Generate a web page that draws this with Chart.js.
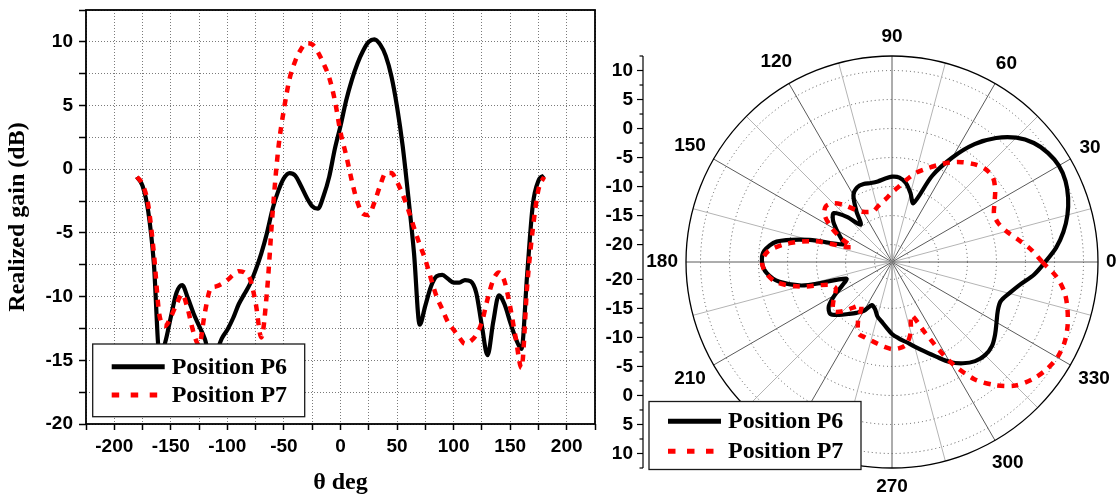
<!DOCTYPE html>
<html>
<head>
<meta charset="utf-8">
<script src="https://cdn.jsdelivr.net/npm/chart.js@4.4.1/dist/chart.umd.min.js"></script>
<style>
  html, body { margin: 0; padding: 0; background: #fff; }
  #wrap { position: relative; width: 1118px; height: 500px; overflow: hidden; background: #fff; }
  #cartesian { position: absolute; left: 0; top: 0; }
  #polar { position: absolute; left: 600px; top: 0; }
</style>
</head>
<body>
<div id="wrap">
  <canvas id="cartesian" width="600" height="500"></canvas>
  <canvas id="polar" width="518" height="500"></canvas>
</div>
<script>
// Elevation angle θ in degrees (5° steps)
const thetaDeg = [
  -180, -175, -170, -165, -160, -155, -150, -145, -140, -135, -130, -125, -120,
  -115, -110, -105, -100, -95, -90, -85, -80, -75, -70, -65, -60, -55, -50,
  -45, -40, -35, -30, -25, -20, -15, -10, -5, 0, 5, 10, 15, 20, 25, 30,
  35, 40, 45, 50, 55, 60, 65, 70, 75, 80, 85, 90, 95, 100, 105, 110,
  115, 120, 125, 130, 135, 140, 145, 150, 155, 160, 165, 170, 175, 180
];

// Realized gain (dB), antenna at position P6
const gainP6 = [
  -0.6, -1.3, -3.3, -7.4, -14.6, -13.6, -11.6, -9.7, -9.1, -10.1, -11.3, -12.3, -13.3,
  -14.8, -14.4, -13.3, -12.6, -11.7, -10.6, -9.8, -9.0, -7.9, -6.6, -5.0, -3.1, -1.7, -0.7,
  -0.3, -0.5, -1.3, -2.2, -2.9, -3.1, -2.1, -0.6, 1.6, 3.4, 5.4, 7.0, 8.3, 9.3, 10.0, 10.2,
  9.8, 8.9, 7.3, 4.9, 1.8, -2.2, -6.6, -12.2, -10.7, -9.2, -8.4, -8.3, -8.6, -8.9, -8.9, -8.7,
  -8.8, -9.7, -12.3, -14.6, -12.0, -9.9, -10.6, -12.0, -13.3, -14.1, -8.3, -2.8, -0.9, -0.5
];

// Realized gain (dB), antenna at position P7
const gainP7 = [
  -0.6, -1.2, -2.8, -6.6, -11.5, -12.3, -11.6, -10.6, -9.8, -11.0, -12.8, -13.8, -11.3,
  -9.4, -9.2, -9.0, -8.7, -8.3, -8.0, -8.1, -8.6, -10.5, -13.2, -9.6, -3.4, 1.6, 4.7,
  7.1, 8.5, 9.4, 9.9, 9.8, 9.2, 8.3, 7.2, 5.4, 2.9, 1.1, -0.9, -2.6, -3.5, -3.6, -2.6,
  -1.3, -0.3, -0.3, -1.0, -2.0, -3.2, -4.6, -5.9, -7.1, -8.6, -10.0, -11.0, -12.0, -12.6, -13.2, -13.7,
  -13.5, -13.0, -12.0, -10.2, -8.7, -8.1, -8.8, -10.8, -13.3, -15.6, -9.2, -4.7, -1.6, -0.6
];

const seriesNames = ['Position P6', 'Position P7'];

// Tick labels
const xTickLabels = [-200, -150, -100, -50, 0, 50, 100, 150, 200];
const yTickLabels = [10, 5, 0, -5, -10, -15, -20];
const polarGainLabels = [10, 5, 0, -5, -10, -15, -20];
const polarAngleLabels = [0, 30, 60, 90, 120, 150, 180, 210, 240, 270, 300, 330];

const SERIF = '"Liberation Serif", "Times New Roman", serif';
const SANS = '"Liberation Sans", Arial, sans-serif';
const TICK_FONT = { family: SANS, weight: 'bold', size: 19 };
const P6_STYLE = { borderColor: '#000000', borderWidth: 4.2 };
const P7_STYLE = { borderColor: '#ff0000', borderWidth: 4.5, borderDash: [7, 7] };

Chart.defaults.animation = false;
Chart.defaults.events = [];

// Boxed legend drawn over the plot
function drawLegendBox(chart, box) {
  const ctx = chart.ctx;
  ctx.save();
  ctx.fillStyle = '#ffffff';
  ctx.fillRect(box.x, box.y, box.w, box.h);
  ctx.strokeStyle = '#1a1a1a';
  ctx.lineWidth = 1.3;
  ctx.strokeRect(box.x, box.y, box.w, box.h);
  chart.data.datasets.forEach((ds, k) => {
    const y = box.y + box.firstRow + k * box.rowGap;
    ctx.beginPath();
    ctx.setLineDash(ds.borderDash ? [7.5, 11.5] : []);
    ctx.lineCap = 'butt';
    ctx.strokeStyle = ds.borderColor;
    ctx.lineWidth = ds.borderDash ? 5 : 5;
    ctx.moveTo(box.x + 19, y);
    ctx.lineTo(box.x + (ds.borderDash ? 66 : 72), y);
    ctx.stroke();
    ctx.setLineDash([]);
    ctx.fillStyle = '#000';
    ctx.font = `bold 24px ${SERIF}`;
    ctx.textAlign = 'left';
    ctx.textBaseline = 'middle';
    ctx.fillText(ds.label, box.x + 79, y + 1);
  });
  ctx.restore();
}

// ---------- Cartesian gain pattern ----------
const cartesianDecor = {
  id: 'cartesianDecor',
  afterDraw(chart) {
    const { ctx, chartArea: a } = chart;
    ctx.save();
    ctx.strokeStyle = '#000';
    ctx.lineWidth = 1.8;
    ctx.strokeRect(a.left, a.top, a.right - a.left, a.bottom - a.top);
    ctx.restore();
    drawLegendBox(chart, { x: a.left + 6.7, y: a.bottom - 80, w: 212, h: 72.7, firstRow: 22.7, rowGap: 28.3 });
  }
};

new Chart(document.getElementById('cartesian'), {
  type: 'line',
  data: {
    datasets: [
      Object.assign({
        label: seriesNames[0],
        data: thetaDeg.map((t, i) => ({ x: t, y: gainP6[i] })),
        order: 1
      }, P6_STYLE),
      Object.assign({
        label: seriesNames[1],
        data: thetaDeg.map((t, i) => ({ x: t, y: gainP7[i] })),
        order: 0
      }, P7_STYLE)
    ]
  },
  options: {
    responsive: false,
    maintainAspectRatio: false,
    layout: { padding: { left: 0, right: 5, top: 10, bottom: 0 } },
    elements: {
      point: { radius: 0 },
      line: { cubicInterpolationMode: 'monotone', fill: false, borderJoinStyle: 'round' }
    },
    plugins: { legend: { display: false }, tooltip: { enabled: false } },
    scales: {
      x: {
        type: 'linear',
        min: -225,
        max: 225,
        afterFit: (s) => { s.height = 76; s.paddingLeft = 0; s.paddingRight = 0; },
        ticks: {
          stepSize: 25,
          autoSkip: false,
          maxRotation: 0,
          padding: 5,
          color: '#000',
          font: TICK_FONT,
          callback: (v) => (xTickLabels.includes(v) ? String(v) : '')
        },
        grid: {
          color: '#7a7a7a',
          lineWidth: 1,
          tickLength: 6,
          tickColor: '#000',
          tickWidth: 1.5,
          tickBorderDash: []
        },
        border: { display: false, dash: [1, 2] },
        title: {
          display: true,
          text: 'θ deg',
          color: '#000',
          font: { family: SERIF, weight: 'bold', size: 24 },
          padding: { top: 0, bottom: 3 }
        }
      },
      y: {
        type: 'linear',
        min: -20,
        max: 12.5,
        afterFit: (s) => { s.width = 86; s.paddingTop = 0; s.paddingBottom = 0; },
        ticks: {
          stepSize: 2.5,
          autoSkip: false,
          padding: 6,
          color: '#000',
          font: TICK_FONT,
          callback: (v) => (yTickLabels.includes(v) ? String(v) : '')
        },
        grid: {
          color: '#7a7a7a',
          lineWidth: 1,
          tickLength: 7,
          tickColor: '#000',
          tickWidth: 1.5,
          tickBorderDash: []
        },
        border: { display: false, dash: [1, 2] },
        title: {
          display: true,
          text: 'Realized gain (dB)',
          color: '#000',
          font: { family: SERIF, weight: 'bold', size: 24 },
          padding: { top: 3, bottom: 0 }
        }
      }
    }
  },
  plugins: [cartesianDecor]
});

// ---------- Polar gain pattern ----------
// One full turn of samples (θ = 180° is the same direction as -180°), ordered
// counter-clockwise from 0°, since the radial scale steps clockwise.
const ring = thetaDeg.slice(0, -1);
const zeroIdx = ring.indexOf(0);
const polarOrder = ring.map((_, k) => (zeroIdx - k + ring.length) % ring.length);
const polarLabels = polarOrder.map((j) => (ring[j] + 360) % 360);
const polarP6 = polarOrder.map((j) => gainP6[j]);
const polarP7 = polarOrder.map((j) => gainP7[j]);

const polarDecor = {
  id: 'polarDecor',
  afterDraw(chart) {
    const ctx = chart.ctx;
    const r = chart.scales.r;
    const R = r.drawingArea;
    ctx.save();

    // outer boundary circle
    ctx.beginPath();
    ctx.strokeStyle = '#000';
    ctx.lineWidth = 1.3;
    ctx.arc(r.xCenter, r.yCenter, R, 0, Math.PI * 2);
    ctx.stroke();

    // angle labels around the circle
    ctx.font = `bold ${TICK_FONT.size}px ${SANS}`;
    ctx.fillStyle = '#000';
    ctx.textAlign = 'center';
    ctx.textBaseline = 'middle';
    polarAngleLabels.forEach((a) => {
      const idx = polarLabels.indexOf(a);
      const rad = a * Math.PI / 180;
      const w = ctx.measureText(String(a)).width;
      const d = R + 8 + Math.abs(Math.cos(rad)) * w / 2 + Math.abs(Math.sin(rad)) * 11;
      const p = r.getPointPosition(idx, d);
      ctx.fillText(String(a), p.x, p.y);
    });

    // mirrored radial gain axis on the left
    const ax = r.xCenter - R - 43;
    ctx.beginPath();
    ctx.strokeStyle = '#000';
    ctx.lineWidth = 1.2;
    ctx.moveTo(ax, r.yCenter - R);
    ctx.lineTo(ax, r.yCenter + R);
    ctx.stroke();
    const top = r.max;
    for (let v = -20; v <= top + 1e-9; v += 2.5) {
      const dist = r.getDistanceFromCenterForValue(v);
      const major = polarGainLabels.includes(v);
      [-1, 1].forEach((sgn) => {
        const y = r.yCenter + sgn * dist;
        ctx.beginPath();
        ctx.moveTo(ax, y);
        ctx.lineTo(ax - (major ? 6 : 3.5), y);
        ctx.stroke();
        if (major) {
          ctx.textAlign = 'right';
          ctx.fillText(String(v), ax - 10, y);
        }
      });
    }
    ctx.restore();

    const a = chart.chartArea;
    drawLegendBox(chart, { x: a.left - 37, y: a.bottom - 66.5, w: 212, h: 68, firstRow: 19.7, rowGap: 30 });
  }
};

const angleOf = (i) => polarLabels[i];

new Chart(document.getElementById('polar'), {
  type: 'radar',
  data: {
    labels: polarLabels,
    datasets: [
      Object.assign({ label: seriesNames[0], data: polarP6, order: 1 }, P6_STYLE),
      Object.assign({ label: seriesNames[1], data: polarP7, order: 0 }, P7_STYLE)
    ]
  },
  options: {
    responsive: false,
    maintainAspectRatio: false,
    layout: { padding: { left: 86, right: 20, top: 56, bottom: 32 } },
    elements: {
      point: { radius: 0 },
      line: { tension: 0.3, fill: false, borderJoinStyle: 'round' }
    },
    plugins: { legend: { display: false }, tooltip: { enabled: false } },
    scales: {
      r: {
        min: -23,
        max: 12.5,
        startAngle: 90,
        beginAtZero: false,
        afterBuildTicks: (s) => { s.ticks = polarGainLabels.map((v) => ({ value: v })); },
        ticks: { display: false },
        pointLabels: { display: false },
        grid: { circular: true, color: '#555', lineWidth: 1, borderDash: [1, 3] },
        border: { dash: [1, 3] },
        angleLines: {
          display: true,
          color: (c) => (angleOf(c.index) % 30 === 0 ? '#5a5a5a' : '#b4b4b4'),
          lineWidth: (c) => (angleOf(c.index) % 15 === 0 ? 1 : 0)
        }
      }
    }
  },
  plugins: [polarDecor]
});
</script>
</body>
</html>
